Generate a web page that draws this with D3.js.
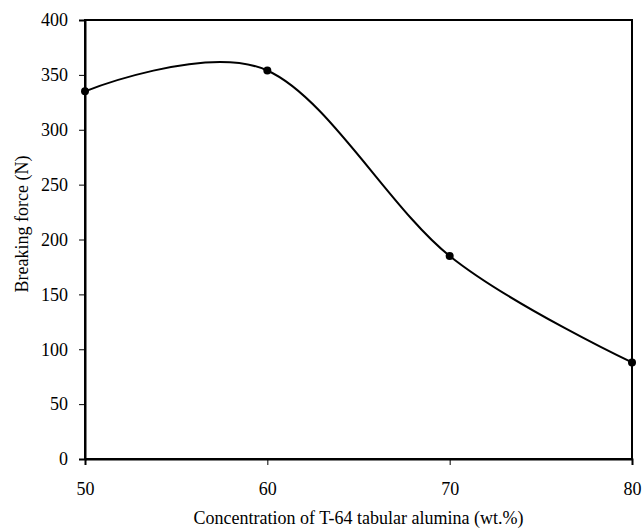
<!DOCTYPE html>
<html>
<head>
<meta charset="utf-8">
<script src="https://cdn.jsdelivr.net/npm/d3@7"></script>
<style>
  body { margin: 0; background: #fff; }
  svg text { font-family: "Liberation Serif", "Times New Roman", serif; fill: #000; }
</style>
</head>
<body>
<div id="chart"></div>
<script>
// data
var concentration = [50, 60, 70, 80]
var breakingForce = [335, 354, 185, 88]
var xTicks = [50, 60, 70, 80]
var yTicks = [0, 50, 100, 150, 200, 250, 300, 350, 400]

var width = 643, height = 531
var margin = {top: 20, right: 11, bottom: 72, left: 85}

var svg = d3.select("#chart")
  .append("svg")
  .attr("width", width)
  .attr("height", height)

var x = d3.scaleLinear()
  .domain([50, 80])
  .range([margin.left, width - margin.right])

var y = d3.scaleLinear()
  .domain([0, 400])
  .range([height - margin.bottom, margin.top])

// frame round the plot
svg.append("rect")
  .attr("x", x(50))
  .attr("y", y(400))
  .attr("width", x(80) - x(50))
  .attr("height", y(0) - y(400))
  .attr("fill", "none")
  .attr("stroke", "#000")
  .attr("stroke-width", 2)

// y axis
var yAxis = svg.append("g")
  .attr("transform", "translate(" + x(50) + ",0)")
  .attr("font-family", null)
  .call(d3.axisLeft(y).tickValues(yTicks).tickSize(6).tickPadding(11))
yAxis.attr("font-family", "Liberation Serif, Times New Roman, serif").attr("font-size", 18)
yAxis.select(".domain").attr("stroke-width", 2)

// x axis
var xAxis = svg.append("g")
  .attr("transform", "translate(0," + y(0) + ")")
  .call(d3.axisBottom(x).tickValues(xTicks).tickSize(6).tickPadding(17))
xAxis.attr("font-family", "Liberation Serif, Times New Roman, serif").attr("font-size", 18)
xAxis.select(".domain").attr("stroke-width", 2)

// axis titles
svg.append("text")
  .attr("x", (x(50) + x(80)) / 2)
  .attr("y", 524)
  .attr("text-anchor", "middle")
  .style("font-size", "18px")
  .text("Concentration of T-64 tabular alumina (wt.%)")

svg.append("text")
  .attr("transform", "translate(28,224) rotate(-90)")
  .attr("text-anchor", "middle")
  .style("font-size", "18px")
  .text("Breaking force (N)")

// smoothed line
var pts = concentration.map(function (c, i) { return [c, breakingForce[i]] })

var line = d3.line()
  .x(function (d) { return x(d[0]) })
  .y(function (d) { return y(d[1]) })
  .curve(d3.curveCardinal.tension(0))

svg.append("path")
  .datum(pts)
  .attr("d", line)
  .attr("fill", "none")
  .attr("stroke", "#000")
  .attr("stroke-width", 2)

svg.selectAll("circle.pt")
  .data(pts)
  .enter()
  .append("circle")
    .attr("class", "pt")
    .attr("cx", function (d) { return x(d[0]) })
    .attr("cy", function (d) { return y(d[1]) })
    .attr("r", 4)
    .attr("fill", "#000")
</script>
</body>
</html>
